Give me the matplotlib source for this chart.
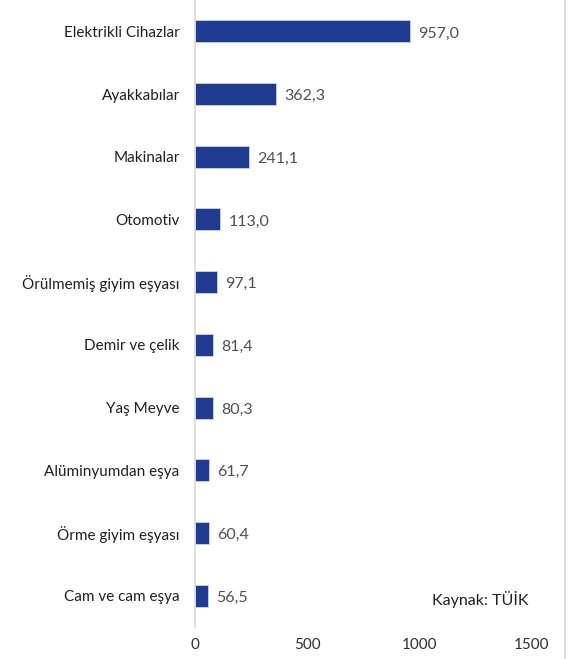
import matplotlib
matplotlib.use("Agg")
import matplotlib.pyplot as plt
from matplotlib.lines import Line2D

categories = ["Elektrikli Cihazlar", "Ayakkabılar", "Makinalar", "Otomotiv",
              "Örülmemiş giyim eşyası", "Demir ve çelik", "Yaş Meyve",
              "Alüminyumdan eşya", "Örme giyim eşyası", "Cam ve cam eşya"]
values = [957.0, 362.3, 241.1, 113.0, 97.1, 81.4, 80.3, 61.7, 60.4, 56.5]
xticks = [0, 500, 1000, 1500]
source = "Kaynak: TÜİK"

plt.rcParams['font.family'] = ['Lato', 'DejaVu Sans']

fig = plt.figure(figsize=(5.71, 6.59), dpi=100)
ax = fig.add_axes([195/571, 32/659, (532-195)/571, 627/659])

n = len(categories)
ypos = list(range(n))
ax.barh(ypos, values, height=0.35, color="#203A8F", edgecolor="#C9D3EA", linewidth=0.6)
ax.set_ylim(n - 0.5, -0.5)
ax.set_xlim(0, 1500)
ax.set_yticks(ypos)
ax.set_yticklabels(categories, fontsize=11, color="#202020")
ax.set_xticks(xticks)
ax.set_xticklabels([str(t) for t in xticks], fontsize=11, color="#303030")
ax.tick_params(axis='both', length=0)
ax.tick_params(axis='y', pad=11)
ax.tick_params(axis='x', pad=8)
for s in ["top", "right", "bottom"]:
    ax.spines[s].set_visible(False)
ax.spines["left"].set_color("#D9D9D9")
ax.spines["left"].set_linewidth(1.2)

for y, v in zip(ypos, values):
    ax.annotate(f"{v:.1f}".replace(".", ","), xy=(v, y), xytext=(6, -1.5),
                textcoords="offset points", va="center", ha="left",
                fontsize=11.5, color="#505050")

fig.text(480/571, 1 - 600/659, source, fontsize=11.5, color="#202020", ha="center", va="center")
fig.add_artist(Line2D([565/571, 565/571], [0, 1], transform=fig.transFigure,
                      color="#D9D9D9", linewidth=1.2))

fig.savefig("out.png", dpi=100)
